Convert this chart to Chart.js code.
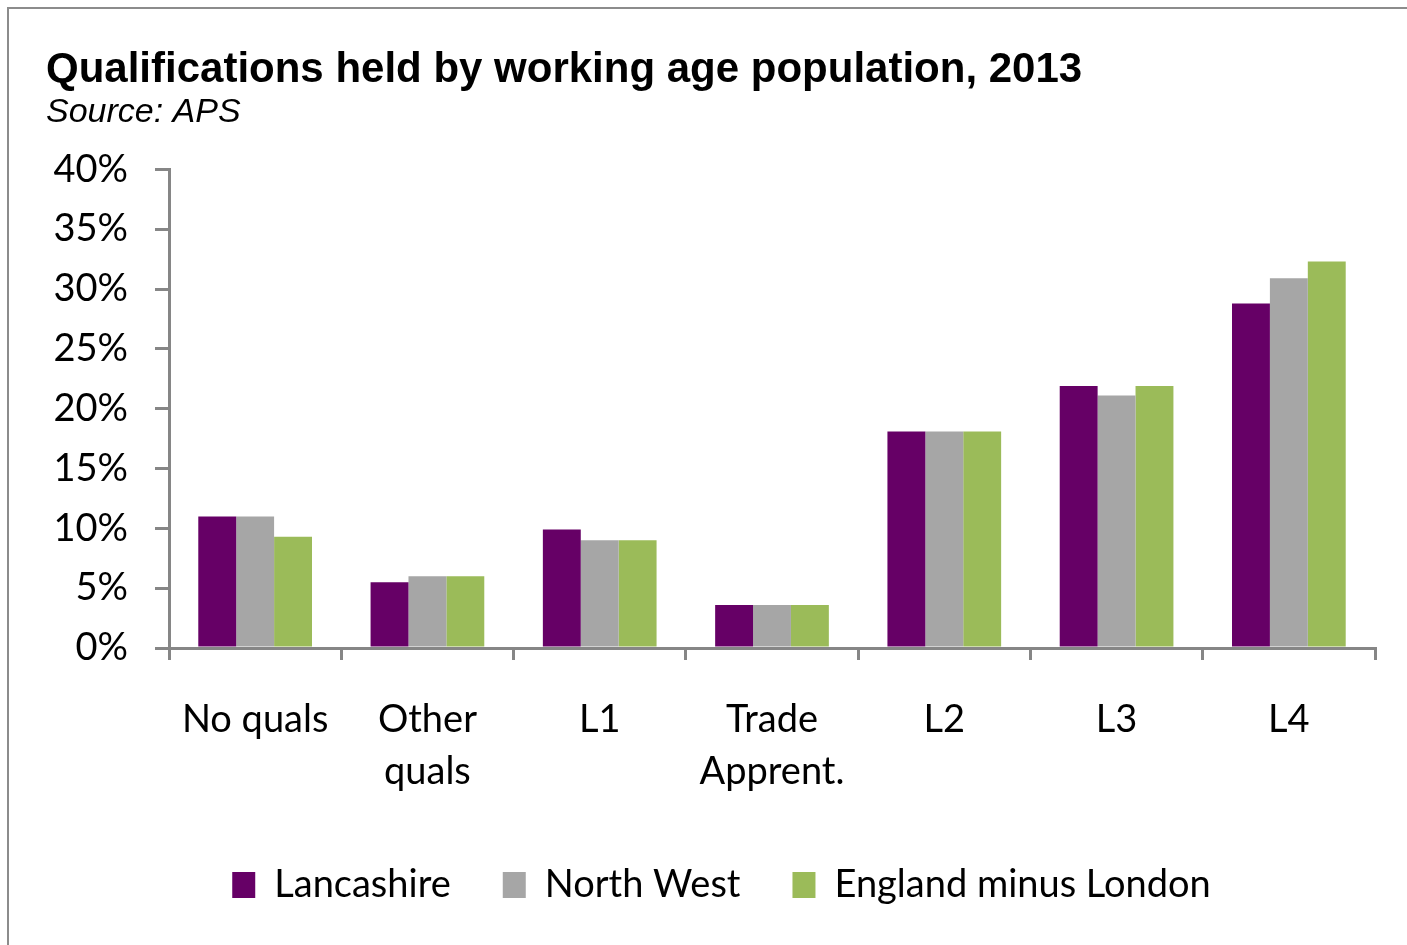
<!DOCTYPE html>
<html>
<head>
<meta charset="utf-8">
<title>Qualifications held by working age population, 2013</title>
<script src="https://cdn.jsdelivr.net/npm/chart.js@4/dist/chart.umd.min.js"></script>
<style>
	html, body { margin: 0; padding: 0; background: #fff; overflow: hidden; }
	#frame { position: absolute; left: 7px; top: 7px; width: 1500px; height: 1000px; border: 2px solid #8c8c8c; }
	#wrap { position: absolute; left: 0; top: 0; width: 1407px; height: 945px; }
</style>
</head>
<body>
<div id="frame"></div>
<div id="wrap"><canvas id="qualChart"></canvas></div>
<script>
// categories and values (% of working age population)
const categories = ["No quals", ["Other", "quals"], "L1", ["Trade", "Apprent."], "L2", "L3", "L4"];
const lancashire = [11.0, 5.5, 9.9, 3.6, 18.1, 21.9, 28.8];
const northWest = [11.0, 6.0, 9.0, 3.6, 18.1, 21.1, 30.9];
const englandMinusLondon = [9.3, 6.0, 9.0, 3.6, 18.1, 21.9, 32.3];
const yTicks = [0, 5, 10, 15, 20, 25, 30, 35, 40];

const axisGrey = '#868686';
const labelFont = { family: 'Lato', size: 38 };

// move the legend a bit to the right
const legendShift = {
	id: 'legendShift',
	afterLayout(chart) {
		chart.legend.left += 11;
		chart.legend.right += 11;
	}
};

Chart.defaults.color = '#000';
const ctx = document.getElementById('qualChart').getContext('2d');
const qualChart = new Chart(ctx, {
	type: 'bar',
	plugins: [legendShift],
	data: {
		labels: categories,
		datasets: [
			{
				label: 'Lancashire',
				data: lancashire,
				backgroundColor: '#660066',
			}, {
				label: 'North West',
				data: northWest,
				backgroundColor: '#a6a6a6',
			}, {
				label: 'England minus London',
				data: englandMinusLondon,
				backgroundColor: '#9bbb59',
			}
		]
	},
	options: {
		responsive: true,
		maintainAspectRatio: false,
		animation: false,
		categoryPercentage: 0.66,
		barPercentage: 1.0,
		layout: {
			padding: { left: 46, right: 32, top: 10, bottom: 31 }
		},
		plugins: {
			title: {
				display: true,
				text: 'Qualifications held by working age population, 2013',
				align: 'start',
				color: '#000',
				font: { family: 'Liberation Sans', size: 42, weight: 'bold', lineHeight: 1.2 },
				padding: { top: 35, bottom: 0 }
			},
			subtitle: {
				display: true,
				text: 'Source: APS',
				align: 'start',
				color: '#000',
				font: { family: 'Liberation Sans', size: 34, style: 'italic', lineHeight: 1.0 },
				padding: { top: 0, bottom: 40 }
			},
			legend: {
				position: 'bottom',
				labels: {
					font: labelFont,
					boxWidth: 23,
					boxHeight: 26,
					padding: 52
				}
			},
			tooltip: { enabled: false }
		},
		scales: {
			x: {
				afterFit: s => { s.height = 166; },
				grid: {
					drawOnChartArea: false,
					color: axisGrey,
					lineWidth: 3,
					tickLength: 12
				},
				border: { color: axisGrey, width: 3 },
				ticks: {
					font: Object.assign({ lineHeight: 1.37 }, labelFont),
					padding: 34,
					maxRotation: 0
				}
			},
			y: {
				min: 0,
				max: 40,
				afterFit: s => { s.width = 123; },
				afterBuildTicks: s => { s.ticks = yTicks.map(v => ({ value: v })); },
				grid: {
					drawOnChartArea: false,
					color: axisGrey,
					lineWidth: 3,
					tickLength: 14
				},
				border: { color: axisGrey, width: 3 },
				ticks: {
					font: labelFont,
					padding: 27,
					callback: v => v + '%'
				}
			}
		}
	}
});
</script>
</body>
</html>
